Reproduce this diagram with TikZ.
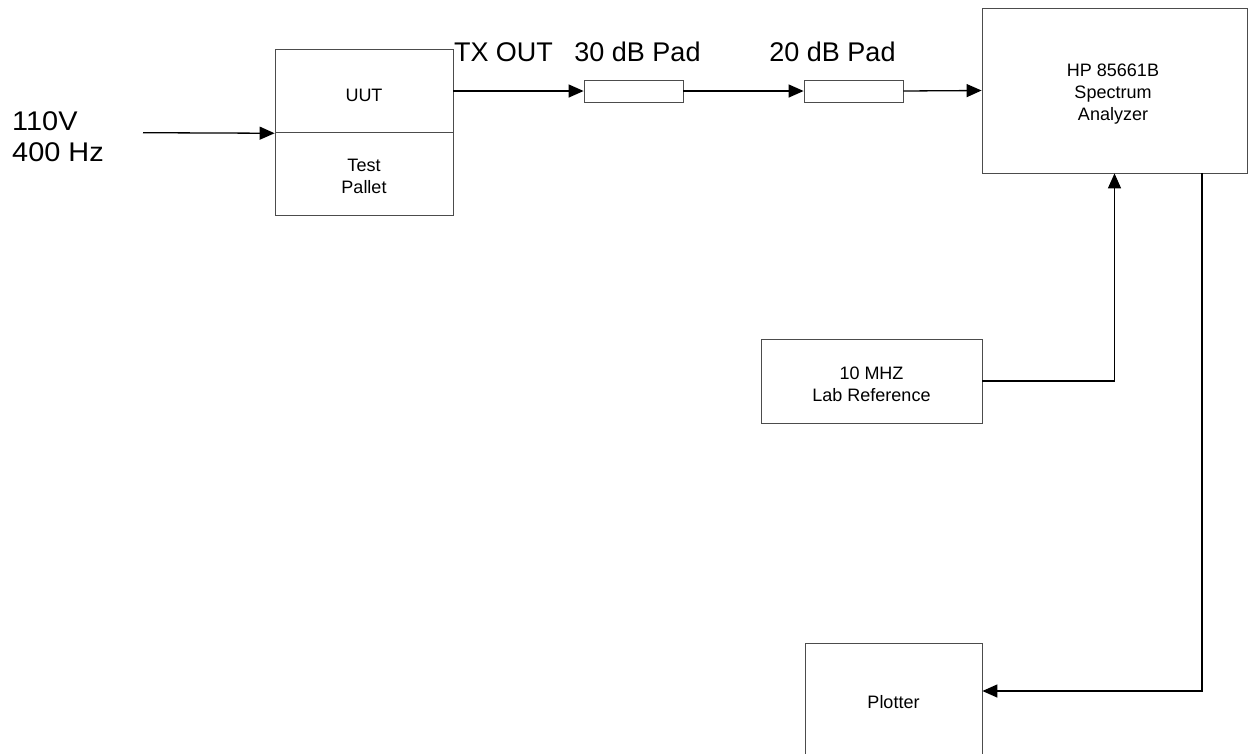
\documentclass[tikz,border=0pt]{standalone}
\usepackage{fontspec}
\setmainfont{Liberation Sans}
\newfontfamily\widesans[FakeStretch=1.07]{Liberation Sans}
\usetikzlibrary{arrows.meta}
\newcommand\dsmall{\fontsize{18}{22}\selectfont}
\newcommand\dbig{\fontsize{27}{32}\selectfont}
\newcommand\dwide{\widesans\fontsize{27}{31}\selectfont}
\begin{document}
\begin{tikzpicture}[x=1pt,y=-1pt,
  box/.style={draw=black!70, line width=0.8pt, inner sep=0pt},
  txt/.style={inner sep=0pt, align=center, font=\dsmall},
  conn/.style={line width=1.3pt, -{Triangle[length=15pt,width=13pt]}},
  big/.style={font=\dbig, inner sep=0pt, align=left}]
\path[use as bounding box, fill=white] (0,0) rectangle (1251,753);
% boxes
\node[box, minimum width=178pt, minimum height=83.7pt] (uut) at (364,91) {};
\node[box, minimum width=178pt, minimum height=82.3pt] (pallet) at (364,173.8) {};
\node[box, minimum width=99pt, minimum height=22pt] (pad1) at (633.5,91) {};
\node[box, minimum width=99pt, minimum height=22pt] (pad2) at (853.5,91) {};
\node[box, minimum width=265pt, minimum height=165pt] (sa) at (1114.5,90.5) {};
\node[box, minimum width=221pt, minimum height=84pt] (ref) at (871.5,381) {};
\node[box, minimum width=177pt, minimum height=118pt] (plotter) at (893.5,702) {};
% box texts
\node[txt] (uutT) at (364,95) {UUT};
\node[txt] (palletT) at (364,176.5) {Test\\Pallet};
\node[txt] (saT) at (1113,94) {HP 85661B\\Spectrum\\Analyzer};
\node[txt] (refT) at (871.5,384) {10 MHZ\\Lab Reference};
\node[txt] (plotterT) at (893.5,702) {Plotter};
% labels
\node[big, font=\dwide, anchor=west] (pw) at (12,137.2) {110V\\400 Hz};
\node[big] (tx) at (503.5,52) {TX OUT};
\node[big] (l30) at (637.5,52) {30 dB Pad};
\node[big] (l20) at (832.5,52) {20 dB Pad};
% connectors
\coordinate (pin) at (143,132.7);
\coordinate (tap) at (1202,173);
\draw[conn] (pin) -- (uut.south west);
\draw[conn] (uut.east) -- (pad1.west);
\draw[conn] (pad1.east) -- (pad2.west);
\draw[conn] (pad2.east) -- (sa.west);
\draw[conn] (ref.east) -| (sa.south);
\draw[conn] (tap) |- ([yshift=11pt]plotter.east);
\end{tikzpicture}
\end{document}
